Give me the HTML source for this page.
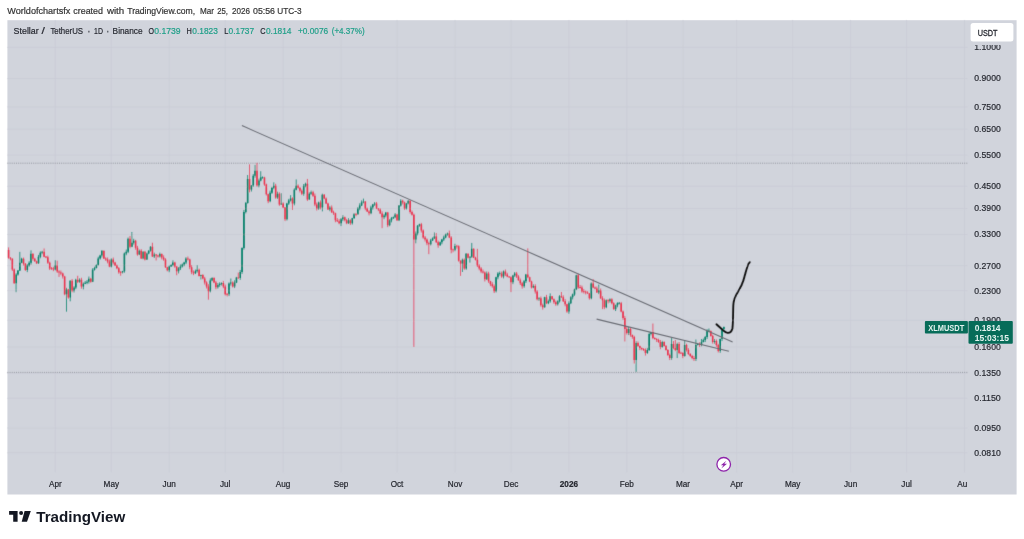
<!DOCTYPE html><html><head><meta charset="utf-8"><style>html,body{margin:0;padding:0;background:#fff;overflow:hidden;width:1024px;height:539px;}svg{display:block;}text{font-family:"Liberation Sans",Arial,sans-serif;}</style></head><body><svg width="1024" height="539" viewBox="0 0 1024 539"><defs><filter id="b" x="0" y="0" width="1024" height="539" filterUnits="userSpaceOnUse"><feConvolveMatrix order="3" kernelMatrix="0.0113 0.0838 0.0113 0.0838 0.6193 0.0838 0.0113 0.0838 0.0113" edgeMode="duplicate"/></filter><clipPath id="c11"><rect x="960" y="45" width="60" height="10"/></clipPath></defs><rect x="0" y="0" width="1024" height="539" fill="#fff"/><text x="7.3" y="13.7" font-size="9.2" fill="#333" stroke="#333" stroke-width="0.2" textLength="63.0" lengthAdjust="spacingAndGlyphs">Worldofchartsfx</text><text x="73.3" y="13.7" font-size="9.2" fill="#333" stroke="#333" stroke-width="0.2" textLength="29.7" lengthAdjust="spacingAndGlyphs">created</text><text x="106.9" y="13.7" font-size="9.2" fill="#333" stroke="#333" stroke-width="0.2" textLength="17.3" lengthAdjust="spacingAndGlyphs">with</text><text x="127.2" y="13.7" font-size="9.2" fill="#333" stroke="#333" stroke-width="0.2" textLength="68.0" lengthAdjust="spacingAndGlyphs">TradingView.com,</text><text x="200" y="13.7" font-size="9.2" fill="#333" stroke="#333" stroke-width="0.2" textLength="14.0" lengthAdjust="spacingAndGlyphs">Mar</text><text x="217.2" y="13.7" font-size="9.2" fill="#333" stroke="#333" stroke-width="0.2" textLength="10.8" lengthAdjust="spacingAndGlyphs">25,</text><text x="232" y="13.7" font-size="9.2" fill="#333" stroke="#333" stroke-width="0.2" textLength="18.0" lengthAdjust="spacingAndGlyphs">2026</text><text x="253" y="13.7" font-size="9.2" fill="#333" stroke="#333" stroke-width="0.2" textLength="22.0" lengthAdjust="spacingAndGlyphs">05:56</text><text x="277.3" y="13.7" font-size="9.2" fill="#333" stroke="#333" stroke-width="0.2" textLength="24.3" lengthAdjust="spacingAndGlyphs">UTC-3</text><rect x="7.4" y="20.2" width="1009.2" height="474.3" fill="#d1d4dc"/><g filter="url(#b)"><path d="M7.4 47.4H967.5 M7.4 78.58H967.5 M7.4 106.92H967.5 M7.4 129.15H967.5 M7.4 155.12H967.5 M7.4 186.3H967.5 M7.4 208.54H967.5 M7.4 234.5H967.5 M7.4 265.68H967.5 M7.4 290.6H967.5 M7.4 320.29H967.5 M7.4 346.99H967.5 M7.4 373.4H967.5 M7.4 398.31H967.5 M7.4 428H967.5 M7.4 452.78H967.5 M55.3 20.2V472.5 M111.3 20.2V472.5 M169.2 20.2V472.5 M225.2 20.2V472.5 M283.1 20.2V472.5 M341 20.2V472.5 M397 20.2V472.5 M455 20.2V472.5 M511 20.2V472.5 M568.9 20.2V472.5 M626.8 20.2V472.5 M683 20.2V472.5 M736.7 20.2V472.5 M792.7 20.2V472.5 M850.6 20.2V472.5 M906.6 20.2V472.5 M964.5 20.2V472.5" stroke="#c9ccd5" stroke-width="0.8" fill="none"/><path d="M7.4 163.2H967.5" stroke="#878a94" stroke-width="0.85" stroke-dasharray="1 1.15" fill="none"/><path d="M7.4 372.4H967.5" stroke="#878a94" stroke-width="0.85" stroke-dasharray="1 1.15" fill="none"/><path d="M8.6 247.42V258.73 M10.47 257.08V260.3 M12.34 258.2V270.91 M14.2 268.49V283.82 M23.54 257.57V265.54 M25.41 263.03V270.84 M32.88 253.33V260.68 M34.75 257.81V261.85 M36.61 260.58V264.11 M44.08 248.41V257.28 M45.95 256.1V258.18 M47.82 255.63V263.84 M49.69 261.7V270.02 M51.55 266.95V269.9 M53.42 266.74V271.21 M57.16 260.7V272.95 M59.03 270.17V276.92 M60.89 270.52V275.19 M62.76 272.56V278.6 M64.63 275.82V295.28 M68.36 288.86V298.68 M72.1 279.08V292.29 M77.7 275.77V283.14 M81.44 277.79V288.68 M90.77 277.8V282.76 M103.85 250.65V259.06 M105.72 257.31V260.89 M107.58 257.51V263.34 M109.45 259.51V267.28 M113.19 257.51V264.57 M115.05 261.78V266.12 M116.92 264.58V269.17 M118.79 267.08V273.74 M120.66 271.01V275.72 M129.99 235.9V248.33 M135.6 239.83V249.67 M137.46 245.86V255.69 M141.2 249.11V259.03 M144.93 250.94V260.48 M152.41 242.78V256.99 M156.14 253.91V260.48 M158.01 254.71V257.57 M161.74 253.47V259.46 M163.61 255.34V260.74 M165.48 258.23V267.92 M167.35 266.78V271.33 M174.82 261.78V267.76 M176.68 265.93V275.23 M187.89 256.55V260.49 M189.76 258.7V269.23 M191.62 265.19V274.22 M193.49 270.43V275.14 M199.1 268.63V276.51 M202.83 274.17V279.38 M204.7 276.87V284.57 M206.57 281.24V288.47 M208.43 284.2V299.66 M214.04 277.27V283.22 M215.9 280.93V289.39 M223.37 280.9V288.19 M225.24 284.63V295.51 M227.11 293.13V296.47 M232.71 281.34V287.5 M238.31 272.62V278.85 M249.52 164.34V192.36 M256.99 162.87V186.66 M264.46 176.78V185.95 M266.33 183.63V195.49 M268.2 193.7V203.18 M275.67 183.79V198.77 M279.4 192.33V205.84 M283.14 202.32V208.18 M285 207.04V221.09 M292.48 197.27V209.91 M298.08 184.41V188.63 M299.95 186.88V192.52 M301.81 189.42V195.09 M307.42 178.93V200.89 M313.02 190.85V196.91 M314.89 193.55V206.16 M316.75 202.52V210.53 M320.49 200.43V209.36 M324.22 194.02V199.22 M326.09 197.4V204.05 M327.96 202.68V209.95 M331.69 205.43V213.04 M333.56 210.68V214.94 M335.43 212.69V222.22 M337.3 218.09V222.01 M339.17 219.1V224.3 M344.77 216.59V221.41 M346.64 218.9V224.19 M350.37 219.26V224.88 M355.97 212.93V216.25 M365.31 201.08V210.23 M367.18 207.54V212.01 M369.05 210.22V215.39 M376.52 201.94V209.08 M378.38 208.01V211.14 M380.25 208.33V213.96 M382.12 211.34V228.18 M387.72 211.93V227.18 M397.06 213.82V221.01 M402.66 199.7V204.38 M404.53 201.69V209.82 M410.13 200.22V213.6 M412 210.49V215.57 M413.87 213.58V347 M421.34 222.88V232.47 M423.21 229.46V238.76 M425.07 235.81V241.58 M426.94 238.4V245.25 M428.81 241.68V254.16 M436.28 233.02V242.89 M438.15 240.63V247.77 M449.35 230.57V238.13 M451.22 236.25V253.27 M453.09 248.56V252.36 M456.82 244.86V248.64 M458.69 245.34V261.69 M460.56 260.25V275.89 M464.29 258.41V269.82 M468.03 253.36V258.57 M473.63 248.37V258.14 M475.5 256.75V260.48 M477.37 248.85V267.02 M479.24 264.21V270.27 M481.1 266.93V273.15 M482.97 269.48V273.55 M484.84 271.46V281.5 M488.57 271.73V282.86 M490.44 280.82V286.15 M492.31 282.24V287.74 M494.18 284.49V292.99 M501.65 271.54V277.83 M505.38 269.5V276.04 M507.25 272.77V277.2 M509.12 275.93V278 M510.98 276.32V292.11 M516.59 271.9V278.01 M518.45 275.1V280.72 M520.32 278.48V285.01 M522.19 281.96V288.67 M527.79 248.36V278.22 M529.66 276.68V282.13 M531.53 280.72V288.48 M535.26 284.29V293.59 M537.13 290.14V300.39 M540.87 296.53V306.71 M542.73 303.64V309.62 M546.47 294.87V304.09 M552.07 295.93V299.81 M553.94 298.41V303.86 M555.81 300.6V305.83 M561.41 291.92V297.94 M563.28 295.32V302.02 M565.14 299.1V306.3 M567.01 303.78V312.82 M578.22 273.73V288.84 M580.09 284.98V288.54 M581.95 285.62V292.75 M583.82 289.04V293.5 M585.69 290.62V294.43 M587.56 291.14V293.84 M589.42 292.99V299.6 M593.16 279.14V288.15 M595.03 286.48V289.45 M596.89 286.57V292.82 M600.63 288.54V298.93 M602.5 296.25V309.13 M604.36 298.6V309.19 M608.1 299.17V303.46 M611.83 298.25V304.4 M613.7 302.34V309.62 M621.17 301.91V312.33 M623.04 310.52V320.02 M624.91 315.91V341.52 M626.78 327.15V334.55 M630.51 327.62V336.71 M632.38 334.53V338.74 M634.25 335.81V363.54 M637.98 341.46V346.94 M639.85 345.54V350.1 M641.72 347.4V350.28 M643.58 348.01V350.97 M645.45 348.3V355.54 M652.92 323.5V339.13 M654.79 337.32V339.71 M656.66 338.24V342.05 M658.52 338.73V342.82 M660.39 339.99V349.22 M664.13 341.28V346.59 M666 345.01V350.59 M667.86 349.2V355.9 M669.73 353.61V360.04 M673.47 341.03V349.18 M675.33 340.03V351.19 M679.07 342.03V354.12 M680.94 351.63V353.95 M682.8 352.14V358.19 M686.54 343.73V351.57 M688.41 348.09V354.83 M690.27 353.16V356.89 M692.14 354.93V359.25 M694.01 355.93V360.98 M699.61 342.36V347.05 M710.82 330.42V336.7 M712.69 334.69V343.66 M716.42 339.47V346.81 M718.29 343.81V352.43" stroke="#ea3550" stroke-width="0.85" fill="none" opacity="0.9"/><path d="M16.07 273.15V292.16 M17.94 270.06V275.65 M19.81 251.85V271.06 M21.67 257.75V263.23 M27.28 264.09V272.15 M29.14 261.23V266.73 M31.01 250.37V264.82 M38.48 254.9V263.88 M40.35 251.39V258.32 M42.22 250.78V254.22 M55.29 260.21V270.39 M66.5 287.77V311.66 M70.23 280.21V301.33 M73.97 286.13V292.49 M75.83 278.73V289.22 M79.57 278.26V282.89 M83.3 282.38V289.53 M85.17 281.05V284.14 M87.04 280V284.21 M88.91 276.53V283.55 M92.64 268.26V282.11 M94.51 266.67V270.57 M96.38 264.34V268.41 M98.24 256.72V265.58 M100.11 254.72V259.6 M101.98 250.16V257.53 M111.32 258.35V267.43 M122.52 270.89V273.44 M124.39 252.53V272.72 M126.26 249.52V255.24 M128.13 237.52V253.14 M131.86 231.97V247.21 M133.73 238.8V244.59 M139.33 249.53V255.17 M143.07 251.11V259.29 M146.8 252.59V259.99 M148.67 250.25V254.27 M150.54 246.13V251.7 M154.27 252.61V258.05 M159.88 252.62V257.6 M169.21 265.5V272.21 M171.08 264.22V266.82 M172.95 260.34V266.26 M178.55 267V273.46 M180.42 264.43V270 M182.29 263.54V267.44 M184.15 261.75V266.2 M186.02 257.16V264.25 M195.36 269.57V274.07 M197.23 265.24V272.63 M200.96 274.62V279.5 M210.3 278.36V292.35 M212.17 277.23V281.29 M217.77 282.99V288.63 M219.64 282.35V286.75 M221.51 282.39V285.51 M228.98 282.43V296.09 M230.84 278.52V285.58 M234.58 280.34V288.09 M236.45 276.83V283.08 M240.18 269.97V279.88 M242.05 247.34V273.89 M243.92 209.84V249.58 M245.79 201.97V213.39 M247.65 175V203.64 M251.39 185.06V191.56 M253.26 174.08V186.83 M255.12 164.83V177.73 M258.86 178.6V187.37 M260.73 171.22V181.35 M262.59 176.36V178.94 M270.06 190.66V202.25 M271.93 186.8V193.92 M273.8 182.37V189.23 M277.53 191.63V198.92 M281.27 193.19V204.93 M286.87 202.81V220.5 M288.74 198.86V204.92 M290.61 195.16V201.55 M294.34 188.35V205.33 M296.21 179.42V190.34 M303.68 184.05V195.72 M305.55 182.65V187.32 M309.28 192.36V199.58 M311.15 190.56V194.9 M318.62 201.66V209.84 M322.36 193.68V211.38 M329.83 205.84V211.23 M341.03 217.97V226.13 M342.9 215.1V221.15 M348.5 218.26V223.93 M352.24 217.83V224.58 M354.11 213.14V218.7 M357.84 207.11V214.85 M359.71 203.31V210.25 M361.58 200.38V206.07 M363.44 198.6V203.41 M370.91 205.66V214.21 M372.78 203.91V209.59 M374.65 202.12V206.01 M383.99 213.86V219.21 M385.86 211.9V217.34 M389.59 219.1V226.24 M391.46 216.95V222.38 M393.33 216.48V218.98 M395.19 213.07V218.19 M398.93 205.07V221.08 M400.8 199.17V206.53 M406.4 202.88V209.54 M408.27 200.22V204.45 M415.74 231.43V243.35 M417.6 225.06V235.39 M419.47 223.68V226.83 M430.68 238.85V245.46 M432.55 237.41V240.9 M434.41 232.53V239.07 M440.02 241.5V246.01 M441.88 238.86V244.28 M443.75 235.48V241.02 M445.62 233.59V238.28 M447.49 232.59V235.73 M454.96 243.75V251.22 M462.43 258.58V271.96 M466.16 253V269.82 M469.9 256.15V262.62 M471.76 242.95V257.83 M486.71 271.47V280 M496.04 276.71V292.47 M497.91 272.12V279.27 M499.78 271.47V275.68 M503.51 270.48V278.39 M512.85 274.81V284.19 M514.72 272.03V276.93 M524.06 279.93V287.8 M525.93 273.9V283.02 M533.4 284.31V288.27 M539 297.05V300.93 M544.6 296.79V307.83 M548.34 299.53V304.18 M550.2 293.4V302.69 M557.67 300.34V305.54 M559.54 295.11V302.5 M568.88 301.36V313.73 M570.75 296.12V304.11 M572.62 293.6V299.43 M574.48 288.69V295.83 M576.35 274.72V290.12 M591.29 282.35V299.26 M598.76 284.55V294.17 M606.23 299.36V308.23 M609.97 298.31V302.73 M615.57 304.61V311.03 M617.44 302.32V307.28 M619.31 301.98V304.51 M628.64 326.96V335.11 M636.11 341.27V372.05 M647.32 347.87V353.9 M649.19 332.43V350.97 M651.05 332.01V335.42 M662.26 340.81V347.68 M671.6 337.53V359.79 M677.2 342.69V358.05 M684.67 340.53V356.67 M695.88 339.53V361.02 M697.74 343.59V345.49 M701.48 339.03V346.29 M703.35 338.57V342.43 M705.21 335.92V342.1 M707.08 329.13V338.97 M708.95 328.47V332.27 M714.55 338.94V343.73 M720.16 338.56V352.85 M722.02 328.2V341.08 M723.89 326.52V330.58" stroke="#078069" stroke-width="0.85" fill="none" opacity="0.9"/><path d="M7.8 249.88h1.6V257.75h-1.6z M9.67 257.75h1.6V258.73h-1.6z M11.54 258.73h1.6V269.55h-1.6z M13.4 269.55h1.6V283.31h-1.6z M22.74 258.73h1.6V263.65h-1.6z M24.61 263.65h1.6V270.04h-1.6z M32.08 253.82h1.6V258.73h-1.6z M33.95 258.73h1.6V261.19h-1.6z M35.81 261.19h1.6V263.16h-1.6z M43.28 251.85h1.6V256.77h-1.6z M45.15 256.61h1.6V257.41h-1.6z M47.02 257.26h1.6V262.67h-1.6z M48.89 262.67h1.6V268.57h-1.6z M50.75 268.17h1.6V268.97h-1.6z M52.62 268.57h1.6V269.55h-1.6z M56.36 265.62h1.6V271.52h-1.6z M58.23 271.52h1.6V272.5h-1.6z M60.09 272.5h1.6V273.48h-1.6z M61.96 273.48h1.6V276.43h-1.6z M63.83 276.43h1.6V294.13h-1.6z M67.56 289.53h1.6V297.4h-1.6z M71.3 280.68h1.6V290.52h-1.6z M76.9 279.7h1.6V281.67h-1.6z M80.64 279.7h1.6V286.58h-1.6z M89.97 278.72h1.6V281.67h-1.6z M103.05 250.65h1.6V258.52h-1.6z M104.92 258.52h1.6V259.5h-1.6z M106.78 259.5h1.6V261.47h-1.6z M108.65 261.47h1.6V266.38h-1.6z M112.39 259.5h1.6V262.45h-1.6z M114.25 262.45h1.6V265.4h-1.6z M116.12 265.4h1.6V268.35h-1.6z M117.99 268.35h1.6V272.28h-1.6z M119.86 271.88h1.6V272.68h-1.6z M129.19 238.85h1.6V246.72h-1.6z M134.8 240.82h1.6V247.7h-1.6z M136.66 247.7h1.6V254.58h-1.6z M140.4 250.65h1.6V258.52h-1.6z M144.13 251.63h1.6V259.5h-1.6z M151.61 246.72h1.6V256.55h-1.6z M155.34 254.58h1.6V255.57h-1.6z M157.21 255.57h1.6V256.55h-1.6z M160.94 254.09h1.6V257.53h-1.6z M162.81 257.53h1.6V259.5h-1.6z M164.68 259.5h1.6V267.36h-1.6z M166.55 267.36h1.6V270.31h-1.6z M174.02 262.45h1.6V266.38h-1.6z M175.88 266.38h1.6V271.3h-1.6z M187.09 258.52h1.6V259.5h-1.6z M188.96 259.5h1.6V267.36h-1.6z M190.82 267.36h1.6V272.28h-1.6z M192.69 272.28h1.6V273.26h-1.6z M198.3 269.67h1.6V276.06h-1.6z M202.03 275.07h1.6V278.52h-1.6z M203.9 278.52h1.6V282.45h-1.6z M205.77 282.45h1.6V286.38h-1.6z M207.63 286.38h1.6V291.3h-1.6z M213.24 278.02h1.6V282.45h-1.6z M215.1 282.45h1.6V287.36h-1.6z M222.57 282.94h1.6V286.38h-1.6z M224.44 286.38h1.6V294.25h-1.6z M226.31 293.85h1.6V294.65h-1.6z M231.91 282.45h1.6V286.38h-1.6z M237.51 277.38h1.6V278.18h-1.6z M248.72 179h1.6V189.41h-1.6z M256.19 170.73h1.6V185.48h-1.6z M263.66 177.62h1.6V184.5h-1.6z M265.53 184.5h1.6V194.33h-1.6z M267.4 194.33h1.6V201.21h-1.6z M274.87 185.82h1.6V197.62h-1.6z M278.6 193.68h1.6V204.5h-1.6z M282.34 203.52h1.6V207.45h-1.6z M284.2 207.45h1.6V219.25h-1.6z M291.68 198.6h1.6V203.52h-1.6z M297.28 185.82h1.6V187.78h-1.6z M299.15 187.78h1.6V190.73h-1.6z M301.01 190.73h1.6V193.68h-1.6z M306.62 183.85h1.6V199.58h-1.6z M312.22 192.21h1.6V195.65h-1.6z M314.09 195.65h1.6V204.5h-1.6z M315.95 204.5h1.6V208.43h-1.6z M319.69 202.53h1.6V207.45h-1.6z M323.42 194.67h1.6V198.6h-1.6z M325.29 198.6h1.6V203.52h-1.6z M327.16 203.52h1.6V209.41h-1.6z M330.89 207.45h1.6V212.36h-1.6z M332.76 212.36h1.6V213.35h-1.6z M334.63 213.35h1.6V220.23h-1.6z M336.5 220.23h1.6V221.21h-1.6z M338.37 221.21h1.6V223.18h-1.6z M343.97 217.28h1.6V220.23h-1.6z M345.84 220.23h1.6V223.18h-1.6z M349.57 220.23h1.6V223.18h-1.6z M355.17 213.93h1.6V214.73h-1.6z M364.51 201.55h1.6V208.43h-1.6z M366.38 208.43h1.6V211.38h-1.6z M368.25 211.38h1.6V213.35h-1.6z M375.72 203.6h1.6V208.52h-1.6z M377.58 208.52h1.6V209.5h-1.6z M379.45 209.5h1.6V213.43h-1.6z M381.32 213.43h1.6V217.36h-1.6z M386.92 212.45h1.6V225.23h-1.6z M396.26 214.41h1.6V220.31h-1.6z M401.86 200.65h1.6V202.62h-1.6z M403.73 202.62h1.6V208.52h-1.6z M409.33 200.65h1.6V211.88h-1.6z M411.2 211.88h1.6V214.83h-1.6z M413.07 214.83h1.6V239.5h-1.6z M420.54 224.17h1.6V230.57h-1.6z M422.41 230.57h1.6V237.45h-1.6z M424.27 237.45h1.6V239.41h-1.6z M426.14 239.41h1.6V243.35h-1.6z M428.01 243.35h1.6V244.33h-1.6z M435.48 236.47h1.6V242.36h-1.6z M437.35 242.36h1.6V245.31h-1.6z M448.55 233.52h1.6V237.45h-1.6z M450.42 237.45h1.6V249.83h-1.6z M452.29 249.43h1.6V250.23h-1.6z M456.02 245.7h1.6V246.5h-1.6z M457.89 246.3h1.6V260.65h-1.6z M459.76 260.65h1.6V263.6h-1.6z M463.49 259.67h1.6V268.52h-1.6z M467.23 253.77h1.6V257.7h-1.6z M472.83 248.85h1.6V257.7h-1.6z M474.7 257.7h1.6V259.67h-1.6z M476.57 259.67h1.6V265.57h-1.6z M478.44 265.57h1.6V268.52h-1.6z M480.3 268.52h1.6V271.47h-1.6z M482.17 271.47h1.6V272.45h-1.6z M484.04 272.45h1.6V279.33h-1.6z M487.77 273.43h1.6V281.3h-1.6z M489.64 281.3h1.6V284.25h-1.6z M491.51 284.25h1.6V286.21h-1.6z M493.38 286.21h1.6V291.13h-1.6z M500.85 273.43h1.6V276.38h-1.6z M504.58 271.47h1.6V274.41h-1.6z M506.45 274.41h1.6V276.38h-1.6z M508.32 276.38h1.6V277.36h-1.6z M510.18 277.36h1.6V282.28h-1.6z M515.79 273.43h1.6V276.38h-1.6z M517.65 276.38h1.6V280.31h-1.6z M519.52 280.31h1.6V283.26h-1.6z M521.39 283.26h1.6V286.21h-1.6z M526.99 274.41h1.6V277.36h-1.6z M528.86 277.36h1.6V281.6h-1.6z M530.73 281.6h1.6V287.5h-1.6z M534.46 286.02h1.6V291.43h-1.6z M536.33 291.43h1.6V299.3h-1.6z M540.07 298.31h1.6V305.2h-1.6z M541.93 305.2h1.6V307.16h-1.6z M545.67 297.33h1.6V303.23h-1.6z M551.27 296.35h1.6V299.3h-1.6z M553.14 299.3h1.6V302.25h-1.6z M555.01 302.25h1.6V304.21h-1.6z M560.61 296.35h1.6V297.33h-1.6z M562.48 297.33h1.6V301.26h-1.6z M564.34 301.26h1.6V304.21h-1.6z M566.21 304.21h1.6V311.59h-1.6z M577.42 275.21h1.6V287.5h-1.6z M579.29 287.1h1.6V287.9h-1.6z M581.15 287.5h1.6V291.43h-1.6z M583.02 291.03h1.6V291.83h-1.6z M584.89 291.43h1.6V292.41h-1.6z M586.76 292.41h1.6V293.4h-1.6z M588.62 293.4h1.6V298.31h-1.6z M592.36 283.57h1.6V287.5h-1.6z M594.23 287.5h1.6V288.48h-1.6z M596.09 288.48h1.6V292.41h-1.6z M599.83 290.45h1.6V298.31h-1.6z M601.7 298.31h1.6V300.28h-1.6z M603.56 300.28h1.6V307.16h-1.6z M607.3 300.28h1.6V301.26h-1.6z M611.03 299.3h1.6V303.23h-1.6z M612.9 303.23h1.6V309.13h-1.6z M620.37 303.23h1.6V311.59h-1.6z M622.24 311.59h1.6V317.9h-1.6z M624.11 317.9h1.6V329.01h-1.6z M625.98 329.01h1.6V333.01h-1.6z M629.71 329.01h1.6V335.02h-1.6z M631.58 335.02h1.6V337.02h-1.6z M633.45 337.02h1.6V360.04h-1.6z M637.18 343.02h1.6V346.03h-1.6z M639.05 346.03h1.6V348.03h-1.6z M640.92 348.03h1.6V349.03h-1.6z M642.78 349.03h1.6V350.03h-1.6z M644.65 350.03h1.6V353.03h-1.6z M652.12 332.01h1.6V338.02h-1.6z M653.99 338.02h1.6V339.02h-1.6z M655.86 339.02h1.6V340.02h-1.6z M657.72 340.02h1.6V342.02h-1.6z M659.59 342.02h1.6V347.03h-1.6z M663.33 342.02h1.6V346.03h-1.6z M665.2 346.03h1.6V350.03h-1.6z M667.06 350.03h1.6V355.04h-1.6z M668.93 355.04h1.6V358.04h-1.6z M672.67 344.03h1.6V348.04h-1.6z M674.53 348.04h1.6V350.04h-1.6z M678.27 344.03h1.6V353.04h-1.6z M680.14 352.64h1.6V353.44h-1.6z M682 353.04h1.6V356.05h-1.6z M685.74 345.04h1.6V350.04h-1.6z M687.61 350.04h1.6V354.04h-1.6z M689.47 354.04h1.6V356.05h-1.6z M691.34 356.05h1.6V358.05h-1.6z M693.21 358.05h1.6V359.05h-1.6z M698.81 344.03h1.6V345.04h-1.6z M710.02 331.02h1.6V336.03h-1.6z M711.89 336.03h1.6V342.03h-1.6z M715.62 341.03h1.6V345.04h-1.6z M717.49 345.04h1.6V351.04h-1.6z" fill="#ea3550"/><path d="M15.27 274.47h1.6V283.31h-1.6z M17.14 270.53h1.6V274.47h-1.6z M19.01 262.67h1.6V270.53h-1.6z M20.87 258.73h1.6V262.67h-1.6z M26.48 265.62h1.6V270.04h-1.6z M28.34 262.67h1.6V265.62h-1.6z M30.21 253.82h1.6V262.67h-1.6z M37.68 256.77h1.6V263.16h-1.6z M39.55 252.83h1.6V256.77h-1.6z M41.42 251.85h1.6V252.83h-1.6z M54.49 265.62h1.6V269.55h-1.6z M65.7 289.53h1.6V294.13h-1.6z M69.43 280.68h1.6V297.4h-1.6z M73.17 287.57h1.6V290.52h-1.6z M75.03 279.7h1.6V287.57h-1.6z M78.77 279.7h1.6V281.67h-1.6z M82.5 283.63h1.6V286.58h-1.6z M84.37 282.65h1.6V283.63h-1.6z M86.24 281.67h1.6V282.65h-1.6z M88.11 278.72h1.6V281.67h-1.6z M91.84 269.87h1.6V281.67h-1.6z M93.71 267.9h1.6V269.87h-1.6z M95.58 264.95h1.6V267.9h-1.6z M97.44 258.5h1.6V264.95h-1.6z M99.31 255.57h1.6V258.5h-1.6z M101.18 250.65h1.6V255.57h-1.6z M110.52 259.5h1.6V266.38h-1.6z M121.72 271.3h1.6V272.28h-1.6z M123.59 253.6h1.6V271.3h-1.6z M125.46 251.63h1.6V253.6h-1.6z M127.33 238.85h1.6V251.63h-1.6z M131.06 242.78h1.6V246.72h-1.6z M132.93 240.82h1.6V242.78h-1.6z M138.53 250.65h1.6V254.58h-1.6z M142.27 251.63h1.6V258.52h-1.6z M146 253.6h1.6V259.5h-1.6z M147.87 250.65h1.6V253.6h-1.6z M149.74 246.72h1.6V250.65h-1.6z M153.47 254.58h1.6V256.55h-1.6z M159.08 254.09h1.6V256.55h-1.6z M168.41 266.38h1.6V270.31h-1.6z M170.28 264.91h1.6V266.38h-1.6z M172.15 262.45h1.6V264.91h-1.6z M177.75 268.35h1.6V271.3h-1.6z M179.62 266.38h1.6V268.35h-1.6z M181.49 264.41h1.6V266.38h-1.6z M183.35 262.45h1.6V264.41h-1.6z M185.22 258.52h1.6V262.45h-1.6z M194.56 271.3h1.6V273.26h-1.6z M196.43 269.67h1.6V271.3h-1.6z M200.16 275.07h1.6V276.06h-1.6z M209.5 280.48h1.6V291.3h-1.6z M211.37 278.02h1.6V280.48h-1.6z M216.97 284.91h1.6V287.36h-1.6z M218.84 283.92h1.6V284.91h-1.6z M220.71 282.94h1.6V283.92h-1.6z M228.18 283.43h1.6V294.25h-1.6z M230.04 282.45h1.6V283.43h-1.6z M233.78 282.45h1.6V286.38h-1.6z M235.65 277.53h1.6V282.45h-1.6z M239.38 272h1.6V278.02h-1.6z M241.25 248h1.6V272h-1.6z M243.12 212h1.6V248h-1.6z M244.99 203h1.6V212h-1.6z M246.85 179h1.6V203h-1.6z M250.59 185.48h1.6V189.41h-1.6z M252.46 175.65h1.6V185.48h-1.6z M254.32 170.73h1.6V175.65h-1.6z M258.06 180.57h1.6V185.48h-1.6z M259.93 177.62h1.6V180.57h-1.6z M261.79 177.22h1.6V178.02h-1.6z M269.26 192.7h1.6V201.21h-1.6z M271.13 187.78h1.6V192.7h-1.6z M273 185.82h1.6V187.78h-1.6z M276.73 193.68h1.6V197.62h-1.6z M280.47 203.52h1.6V204.5h-1.6z M286.07 203.52h1.6V219.25h-1.6z M287.94 200.57h1.6V203.52h-1.6z M289.81 198.6h1.6V200.57h-1.6z M293.54 189.75h1.6V203.52h-1.6z M295.41 185.82h1.6V189.75h-1.6z M302.88 185.82h1.6V193.68h-1.6z M304.75 183.85h1.6V185.82h-1.6z M308.48 193.68h1.6V199.58h-1.6z M310.35 192.21h1.6V193.68h-1.6z M317.82 202.53h1.6V208.43h-1.6z M321.56 194.67h1.6V207.45h-1.6z M329.03 207.45h1.6V209.41h-1.6z M340.23 219.25h1.6V223.18h-1.6z M342.1 217.28h1.6V219.25h-1.6z M347.7 220.23h1.6V223.18h-1.6z M351.44 218.26h1.6V223.18h-1.6z M353.31 214.33h1.6V218.26h-1.6z M357.04 208.43h1.6V214.33h-1.6z M358.91 205.48h1.6V208.43h-1.6z M360.78 202.53h1.6V205.48h-1.6z M362.64 201.55h1.6V202.53h-1.6z M370.11 207.53h1.6V213.35h-1.6z M371.98 204.58h1.6V207.53h-1.6z M373.85 203.6h1.6V204.58h-1.6z M383.19 215.4h1.6V217.36h-1.6z M385.06 212.45h1.6V215.4h-1.6z M388.79 220.31h1.6V225.23h-1.6z M390.66 218.35h1.6V220.31h-1.6z M392.53 217.36h1.6V218.35h-1.6z M394.39 214.41h1.6V217.36h-1.6z M398.13 205.57h1.6V220.31h-1.6z M400 200.65h1.6V205.57h-1.6z M405.6 203.6h1.6V208.52h-1.6z M407.47 200.65h1.6V203.6h-1.6z M414.94 233.52h1.6V239.5h-1.6z M416.8 225.65h1.6V233.52h-1.6z M418.67 224.17h1.6V225.65h-1.6z M429.88 240.4h1.6V244.33h-1.6z M431.75 238.43h1.6V240.4h-1.6z M433.61 236.47h1.6V238.43h-1.6z M439.22 242.36h1.6V245.31h-1.6z M441.08 239.41h1.6V242.36h-1.6z M442.95 237.45h1.6V239.41h-1.6z M444.82 234.5h1.6V237.45h-1.6z M446.69 233.52h1.6V234.5h-1.6z M454.16 245.9h1.6V249.83h-1.6z M461.63 259.67h1.6V263.6h-1.6z M465.36 253.77h1.6V268.52h-1.6z M469.1 256.72h1.6V257.7h-1.6z M470.96 248.85h1.6V256.72h-1.6z M485.91 273.43h1.6V279.33h-1.6z M495.24 277.36h1.6V291.13h-1.6z M497.11 273.43h1.6V277.36h-1.6z M498.98 273.03h1.6V273.83h-1.6z M502.71 271.47h1.6V276.38h-1.6z M512.05 275.4h1.6V282.28h-1.6z M513.92 273.43h1.6V275.4h-1.6z M523.26 281.3h1.6V286.21h-1.6z M525.13 274.41h1.6V281.3h-1.6z M532.6 286.02h1.6V287.5h-1.6z M538.2 298.31h1.6V299.3h-1.6z M543.8 297.33h1.6V307.16h-1.6z M547.54 301.26h1.6V303.23h-1.6z M549.4 296.35h1.6V301.26h-1.6z M556.87 301.26h1.6V304.21h-1.6z M558.74 296.35h1.6V301.26h-1.6z M568.08 303.23h1.6V311.59h-1.6z M569.95 297.33h1.6V303.23h-1.6z M571.82 294.38h1.6V297.33h-1.6z M573.68 289.47h1.6V294.38h-1.6z M575.55 275.21h1.6V289.47h-1.6z M590.49 283.57h1.6V298.31h-1.6z M597.96 290.45h1.6V292.41h-1.6z M605.43 300.28h1.6V307.16h-1.6z M609.17 299.3h1.6V301.26h-1.6z M614.77 305.2h1.6V309.13h-1.6z M616.64 303.23h1.6V305.2h-1.6z M618.51 302.83h1.6V303.63h-1.6z M627.84 329.01h1.6V333.01h-1.6z M635.31 343.02h1.6V360.04h-1.6z M646.52 350.03h1.6V353.03h-1.6z M648.39 334.01h1.6V350.03h-1.6z M650.25 332.01h1.6V334.01h-1.6z M661.46 342.02h1.6V347.03h-1.6z M670.8 344.03h1.6V358.04h-1.6z M676.4 344.03h1.6V350.04h-1.6z M683.87 345.04h1.6V356.05h-1.6z M695.08 345.04h1.6V359.05h-1.6z M696.94 344.03h1.6V345.04h-1.6z M700.68 342.03h1.6V345.04h-1.6z M702.55 340.03h1.6V342.03h-1.6z M704.41 337.03h1.6V340.03h-1.6z M706.28 331.02h1.6V337.03h-1.6z M708.15 330.62h1.6V331.42h-1.6z M713.75 341.03h1.6V342.03h-1.6z M719.36 339.03h1.6V351.04h-1.6z M721.22 329.02h1.6V339.03h-1.6z M723.09 327.02h1.6V329.02h-1.6z" fill="#078069"/><path d="M241.9 125.6L732.6 342.0M596.6 319.1L728.9 351.2" stroke="#676a72" stroke-width="1.1" fill="none"/><path d="M716.4 324.3L722.5 329.8C724.5 331.5 725.5 332.6 727.5 332.8C729.5 333 731.5 332 732.4 328.5C733.2 324 733 312 733.3 305C733.6 299 735.5 295.5 738.4 290.9C740.5 287.5 742 285 743.2 281C744.8 276 745.8 271 747.5 266.5C748.2 264.5 749 263 749.8 262.2" stroke="#111" stroke-width="1.85" fill="none" stroke-linecap="round" stroke-linejoin="round"/></g><text x="13.6" y="33.7" font-size="9.3" fill="#262830" stroke="#262830" stroke-width="0.2" textLength="25.1" lengthAdjust="spacingAndGlyphs">Stellar</text><text x="41.6" y="33.7" font-size="9.3" fill="#262830" stroke="#262830" stroke-width="0.2" textLength="3.4" lengthAdjust="spacingAndGlyphs">/</text><text x="50.4" y="33.7" font-size="9.3" fill="#262830" stroke="#262830" stroke-width="0.2" textLength="32.7" lengthAdjust="spacingAndGlyphs">TetherUS</text><text x="87.6" y="34.9" font-size="13" fill="#262830" stroke="#262830" stroke-width="0.2" textLength="2.8" lengthAdjust="spacingAndGlyphs">·</text><text x="94.1" y="33.7" font-size="9.3" fill="#262830" stroke="#262830" stroke-width="0.2" textLength="8.9" lengthAdjust="spacingAndGlyphs">1D</text><text x="106.6" y="34.9" font-size="13" fill="#262830" stroke="#262830" stroke-width="0.2" textLength="2.6" lengthAdjust="spacingAndGlyphs">·</text><text x="112.6" y="33.7" font-size="9.3" fill="#262830" stroke="#262830" stroke-width="0.2" textLength="30.0" lengthAdjust="spacingAndGlyphs">Binance</text><text x="148.6" y="33.7" font-size="9.3" fill="#262830" stroke="#262830" stroke-width="0.2" textLength="5.5" lengthAdjust="spacingAndGlyphs">O</text><text x="154.3" y="33.7" font-size="9.3" fill="#1d9f88" stroke="#1d9f88" stroke-width="0.2" textLength="26.3" lengthAdjust="spacingAndGlyphs">0.1739</text><text x="186.6" y="33.7" font-size="9.3" fill="#262830" stroke="#262830" stroke-width="0.2" textLength="5.3" lengthAdjust="spacingAndGlyphs">H</text><text x="192.3" y="33.7" font-size="9.3" fill="#1d9f88" stroke="#1d9f88" stroke-width="0.2" textLength="25.5" lengthAdjust="spacingAndGlyphs">0.1823</text><text x="224.2" y="33.7" font-size="9.3" fill="#262830" stroke="#262830" stroke-width="0.2" textLength="4.1" lengthAdjust="spacingAndGlyphs">L</text><text x="228.6" y="33.7" font-size="9.3" fill="#1d9f88" stroke="#1d9f88" stroke-width="0.2" textLength="25.5" lengthAdjust="spacingAndGlyphs">0.1737</text><text x="260.3" y="33.7" font-size="9.3" fill="#262830" stroke="#262830" stroke-width="0.2" textLength="5.3" lengthAdjust="spacingAndGlyphs">C</text><text x="266" y="33.7" font-size="9.3" fill="#1d9f88" stroke="#1d9f88" stroke-width="0.2" textLength="25.4" lengthAdjust="spacingAndGlyphs">0.1814</text><text x="297.9" y="33.7" font-size="9.3" fill="#1d9f88" stroke="#1d9f88" stroke-width="0.2" textLength="30.3" lengthAdjust="spacingAndGlyphs">+0.0076</text><text x="331.7" y="33.7" font-size="9.3" fill="#1d9f88" stroke="#1d9f88" stroke-width="0.2" textLength="33.0" lengthAdjust="spacingAndGlyphs">(+4.37%)</text><text x="974.3" y="50.3" font-size="9.8" fill="#262830" stroke="#262830" stroke-width="0.2" textLength="26.5" lengthAdjust="spacingAndGlyphs" clip-path="url(#c11)">1.1000</text><text x="974.3" y="81.48" font-size="9.8" fill="#262830" stroke="#262830" stroke-width="0.2" textLength="26.5" lengthAdjust="spacingAndGlyphs">0.9000</text><text x="974.3" y="109.82" font-size="9.8" fill="#262830" stroke="#262830" stroke-width="0.2" textLength="26.5" lengthAdjust="spacingAndGlyphs">0.7500</text><text x="974.3" y="132.05" font-size="9.8" fill="#262830" stroke="#262830" stroke-width="0.2" textLength="26.5" lengthAdjust="spacingAndGlyphs">0.6500</text><text x="974.3" y="158.02" font-size="9.8" fill="#262830" stroke="#262830" stroke-width="0.2" textLength="26.5" lengthAdjust="spacingAndGlyphs">0.5500</text><text x="974.3" y="189.2" font-size="9.8" fill="#262830" stroke="#262830" stroke-width="0.2" textLength="26.5" lengthAdjust="spacingAndGlyphs">0.4500</text><text x="974.3" y="211.44" font-size="9.8" fill="#262830" stroke="#262830" stroke-width="0.2" textLength="26.5" lengthAdjust="spacingAndGlyphs">0.3900</text><text x="974.3" y="237.4" font-size="9.8" fill="#262830" stroke="#262830" stroke-width="0.2" textLength="26.5" lengthAdjust="spacingAndGlyphs">0.3300</text><text x="974.3" y="268.58" font-size="9.8" fill="#262830" stroke="#262830" stroke-width="0.2" textLength="26.5" lengthAdjust="spacingAndGlyphs">0.2700</text><text x="974.3" y="293.5" font-size="9.8" fill="#262830" stroke="#262830" stroke-width="0.2" textLength="26.5" lengthAdjust="spacingAndGlyphs">0.2300</text><text x="974.3" y="323.19" font-size="9.8" fill="#262830" stroke="#262830" stroke-width="0.2" textLength="26.5" lengthAdjust="spacingAndGlyphs">0.1900</text><text x="974.3" y="349.89" font-size="9.8" fill="#262830" stroke="#262830" stroke-width="0.2" textLength="26.5" lengthAdjust="spacingAndGlyphs">0.1600</text><text x="974.3" y="376.3" font-size="9.8" fill="#262830" stroke="#262830" stroke-width="0.2" textLength="26.5" lengthAdjust="spacingAndGlyphs">0.1350</text><text x="974.3" y="401.21" font-size="9.8" fill="#262830" stroke="#262830" stroke-width="0.2" textLength="26.5" lengthAdjust="spacingAndGlyphs">0.1150</text><text x="974.3" y="430.9" font-size="9.8" fill="#262830" stroke="#262830" stroke-width="0.2" textLength="26.5" lengthAdjust="spacingAndGlyphs">0.0950</text><text x="974.3" y="455.68" font-size="9.8" fill="#262830" stroke="#262830" stroke-width="0.2" textLength="26.5" lengthAdjust="spacingAndGlyphs">0.0810</text><g font-size="8.2" fill="#262830" stroke="#262830" stroke-width="0.2" text-anchor="middle"><text x="55.3" y="487">Apr</text><text x="111.3" y="487">May</text><text x="169.2" y="487">Jun</text><text x="225.2" y="487">Jul</text><text x="283.1" y="487">Aug</text><text x="341" y="487">Sep</text><text x="397" y="487">Oct</text><text x="455" y="487">Nov</text><text x="511" y="487">Dec</text><text x="568.9" y="487" font-weight="bold">2026</text><text x="626.8" y="487">Feb</text><text x="683" y="487">Mar</text><text x="736.7" y="487">Apr</text><text x="792.7" y="487">May</text><text x="850.6" y="487">Jun</text><text x="906.6" y="487">Jul</text><text x="962.2" y="487">Au</text></g><rect x="924.9" y="321.1" width="43" height="12.5" rx="1" fill="#076c59"/><text x="928.3" y="330.7" font-size="8.8" font-weight="bold" fill="#e3f3ef" textLength="35.9" lengthAdjust="spacingAndGlyphs">XLMUSDT</text><rect x="968.5" y="321.1" width="44.3" height="22.7" rx="1" fill="#076c59"/><text x="974.7" y="331" font-size="9.4" font-weight="bold" fill="#e3f3ef" textLength="25.9" lengthAdjust="spacingAndGlyphs">0.1814</text><text x="974.7" y="341" font-size="9.4" font-weight="bold" fill="#e3f3ef" textLength="34.2" lengthAdjust="spacingAndGlyphs">15:03:15</text><rect x="970.6" y="22.9" width="42.8" height="18.6" rx="2.5" fill="#fff"/><text x="977.7" y="35.9" font-size="9" fill="#262830" stroke="#262830" stroke-width="0.3" textLength="19.8" lengthAdjust="spacingAndGlyphs">USDT</text><circle cx="723.7" cy="464.3" r="6.8" fill="#fff" stroke="#8e24aa" stroke-width="1.3"/><path d="M726.4 460.7L720.8 465.2H723.4L721.3 468.6L727 463.7H724.3Z" fill="#8e24aa"/><path d="M9.1 510.9H17.6V521.7H13.2V514.7H9.1Z" fill="#131722"/><circle cx="21.1" cy="512.9" r="2" fill="#131722"/><path d="M24.6 510.9H30.8L27 521.7H21.7Z" fill="#131722"/><text x="36.3" y="521.7" font-size="14.8" font-weight="bold" fill="#131722" textLength="89" lengthAdjust="spacingAndGlyphs">TradingView</text></svg></body></html>
